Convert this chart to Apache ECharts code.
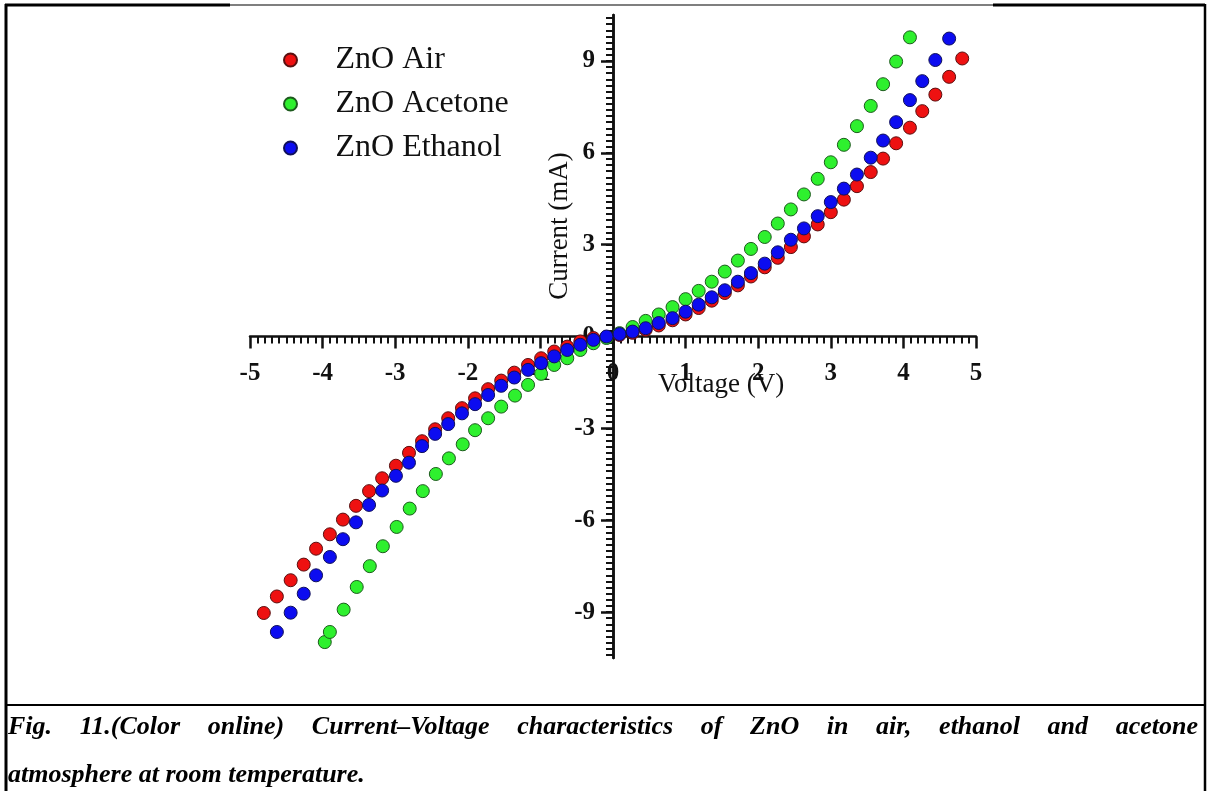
<!DOCTYPE html>
<html>
<head>
<meta charset="utf-8">
<script src="https://cdn.jsdelivr.net/npm/echarts@6/dist/echarts.min.js"></script>
<style>
  html, body { margin: 0; padding: 0; background: #fff; }
  #chart { width: 1209px; height: 791px; }
</style>
</head>
<body>
<div id="chart"></div>
<script>
// values (voltage in V, current in mA)
const airV = [-4.81, -4.63, -4.44, -4.26, -4.09, -3.90, -3.72, -3.54, -3.36, -3.18, -2.99, -2.81, -2.63, -2.45, -2.27, -2.08, -1.90, -1.72, -1.54, -1.36, -1.17, -0.99, -0.81, -0.63, -0.45, -0.27, -0.09,
  0.09, 0.27, 0.45, 0.63, 0.82, 1.00, 1.18, 1.36, 1.54, 1.72, 1.90, 2.09, 2.27, 2.45, 2.63, 2.82, 3.00, 3.18, 3.36, 3.55, 3.72, 3.90, 4.09, 4.26, 4.44, 4.63, 4.81];
const airI = [-9.03, -8.49, -7.96, -7.45, -6.93, -6.46, -5.98, -5.53, -5.05, -4.63, -4.22, -3.80, -3.42, -3.03, -2.67, -2.34, -2.02, -1.72, -1.44, -1.18, -0.93, -0.71, -0.49, -0.33, -0.16, -0.05, -0.02,
  0.05, 0.12, 0.22, 0.36, 0.53, 0.72, 0.93, 1.17, 1.42, 1.67, 1.96, 2.26, 2.57, 2.92, 3.27, 3.66, 4.06, 4.47, 4.91, 5.37, 5.81, 6.31, 6.82, 7.36, 7.90, 8.48, 9.08];

const acetoneV = [-3.97, -3.90, -3.71, -3.53, -3.35, -3.17, -2.98, -2.80, -2.62, -2.44, -2.26, -2.07, -1.90, -1.72, -1.54, -1.35, -1.17, -0.99, -0.81, -0.63, -0.45, -0.27, -0.09,
  0.09, 0.27, 0.45, 0.63, 0.82, 1.00, 1.18, 1.36, 1.54, 1.72, 1.90, 2.09, 2.27, 2.45, 2.63, 2.82, 3.00, 3.18, 3.36, 3.55, 3.72, 3.90, 4.09];
const acetoneI = [-9.98, -9.65, -8.92, -8.18, -7.50, -6.85, -6.22, -5.62, -5.05, -4.49, -3.98, -3.52, -3.06, -2.67, -2.29, -1.93, -1.58, -1.22, -0.93, -0.71, -0.44, -0.22, -0.05,
  0.11, 0.31, 0.51, 0.72, 0.96, 1.22, 1.49, 1.79, 2.12, 2.48, 2.86, 3.25, 3.69, 4.15, 4.64, 5.15, 5.69, 6.26, 6.87, 7.53, 8.24, 8.98, 9.77];

const ethanolV = [-4.63, -4.44, -4.26, -4.09, -3.90, -3.72, -3.54, -3.36, -3.18, -2.99, -2.81, -2.63, -2.45, -2.27, -2.08, -1.90, -1.72, -1.54, -1.36, -1.17, -0.99, -0.81, -0.63, -0.45, -0.27, -0.09,
  0.09, 0.27, 0.45, 0.63, 0.82, 1.00, 1.18, 1.36, 1.54, 1.72, 1.90, 2.09, 2.27, 2.45, 2.63, 2.82, 3.00, 3.18, 3.36, 3.55, 3.72, 3.90, 4.09, 4.26, 4.44, 4.63];
const ethanolI = [-9.65, -9.02, -8.40, -7.80, -7.20, -6.62, -6.07, -5.50, -5.03, -4.55, -4.12, -3.58, -3.18, -2.86, -2.51, -2.21, -1.91, -1.61, -1.34, -1.09, -0.87, -0.65, -0.44, -0.27, -0.11, 0.00,
  0.08, 0.16, 0.27, 0.44, 0.60, 0.81, 1.04, 1.28, 1.51, 1.79, 2.07, 2.38, 2.75, 3.16, 3.53, 3.93, 4.39, 4.83, 5.29, 5.84, 6.40, 7.00, 7.72, 8.34, 9.03, 9.73];

const seriesNames = ['ZnO Air', 'ZnO Acetone', 'ZnO Ethanol'];
const yLabelValues = [-9, -6, -3, 0, 3, 6, 9];
const xAxisTitle = 'Voltage (V)';
const yAxisTitle = 'Current (mA)';
const captionLine1 = 'Fig. 11.(Color online) Current\u2013Voltage characteristics of ZnO in air, ethanol and acetone';
const captionLine2 = 'atmosphere at room temperature.';

const serif = '"Liberation Serif", "Times New Roman", serif';
const ink = '#111';

// plot box; the axes cross at (0, 0), i.e. in the middle of it
const gridLeft = 250, gridRight = 233, gridTop = 15, gridBottom = 133;
const plotW = 1209 - gridLeft - gridRight;
const plotH = 791 - gridTop - gridBottom;

// minor ticks on the current axis every 0.2 mA
const yMinorTicks = [];
for (let k = -52; k <= 52; k++) yMinorTicks.push(Math.round(k * 2) / 10);

const pairs = (xs, ys) => xs.map((v, k) => [v, ys[k]]);

function scatter(name, data, color, border) {
  return {
    name: name,
    type: 'scatter',
    data: data,
    symbol: 'circle',
    symbolSize: 13,
    itemStyle: { color: color, borderColor: border, borderWidth: 1, opacity: 1 },
    emphasis: { disabled: true }
  };
}

// caption line 1 is justified across the frame
const capSize = 26;
const capStyle = { fontSize: capSize, fontFamily: serif, fontStyle: 'italic', fontWeight: 'bold', fill: '#000', verticalAlign: 'middle', align: 'left' };
const measure = document.createElement('canvas').getContext('2d');
measure.font = 'italic bold ' + capSize + 'px ' + serif;
const capWords = captionLine1.split(' ');
const wordW = capWords.map(w => measure.measureText(w).width);
const capLeft = 8, capRight = 1198;
const capGap = (capRight - capLeft - wordW.reduce((a, b) => a + b, 0)) / (capWords.length - 1);
const captionEls = [];
let cx = capLeft;
capWords.forEach((w, k) => {
  captionEls.push({ type: 'text', x: cx, y: 727, style: Object.assign({ text: w }, capStyle) });
  cx += wordW[k] + capGap;
});
captionEls.push({ type: 'text', x: capLeft, y: 775, style: Object.assign({ text: captionLine2 }, capStyle) });

const frame = [
  [5, 5, 1205, 5, 1.2],
  [5, 5, 230, 5, 3],
  [993, 5, 1205, 5, 3],
  [6, 4, 6, 791, 3],
  [1205, 4, 1205, 791, 2.5],
  [5, 705, 1205, 705, 2]
].map(s => ({ type: 'line', shape: { x1: s[0], y1: s[1], x2: s[2], y2: s[3] }, style: { stroke: '#000', lineWidth: s[4] }, silent: true }));

const chart = echarts.init(document.getElementById('chart'), null, { renderer: 'canvas' });
chart.setOption({
  animation: false,
  backgroundColor: '#fff',
  grid: { left: gridLeft, right: gridRight, top: gridTop, bottom: gridBottom, containLabel: false, outerBoundsMode: 'none' },
  legend: {
    orient: 'vertical',
    left: 278,
    top: 39,
    icon: 'circle',
    itemWidth: 80,
    itemHeight: 13,
    itemGap: 12,
    selectedMode: false,
    data: seriesNames,
    textStyle: { fontFamily: serif, fontSize: 32, lineHeight: 32, color: ink }
  },
  xAxis: {
    type: 'value',
    min: -5,
    max: 5,
    interval: 1,
    position: 'bottom',
    offset: -plotH / 2,
    axisLine: { onZero: false, lineStyle: { color: ink, width: 2.5 } },
    axisTick: { length: 12, lineStyle: { color: ink, width: 2.5 } },
    minorTick: { show: true, splitNumber: 10, length: 7, lineStyle: { color: ink, width: 2 } },
    axisLabel: { margin: 25, fontFamily: serif, fontWeight: 'bold', fontSize: 25, color: ink },
    splitLine: { show: false },
    minorSplitLine: { show: false }
  },
  yAxis: [
    {
      type: 'value',
      min: -10.5,
      max: 10.5,
      position: 'left',
      offset: -plotW / 2,
      axisLine: { onZero: false, lineStyle: { color: ink, width: 2.5 } },
      axisTick: { customValues: yLabelValues, length: 12, lineStyle: { color: ink, width: 2.5 } },
      axisLabel: { customValues: yLabelValues, margin: 18, fontFamily: serif, fontWeight: 'bold', fontSize: 25, color: ink },
      splitLine: { show: false }
    },
    {
      type: 'value',
      min: -10.5,
      max: 10.5,
      position: 'left',
      offset: -plotW / 2,
      axisLine: { onZero: false, lineStyle: { color: ink, width: 2.5 } },
      axisTick: { customValues: yMinorTicks, length: 7, lineStyle: { color: ink, width: 2 } },
      axisLabel: { show: false },
      splitLine: { show: false }
    }
  ],
  series: [
    scatter(seriesNames[0], pairs(airV, airI), '#ee1111', '#5a1010'),
    scatter(seriesNames[1], pairs(acetoneV, acetoneI), '#2ef02e', '#1d5a1d'),
    scatter(seriesNames[2], pairs(ethanolV, ethanolI), '#0c0cf0', '#10105a')
  ],
  graphic: frame.concat([
    { type: 'text', x: 658, y: 385, style: { text: xAxisTitle, fontSize: 27, fontFamily: serif, fill: ink, align: 'left', verticalAlign: 'middle' } },
    { type: 'text', x: 560, y: 226, rotation: Math.PI / 2, style: { text: yAxisTitle, fontSize: 27, fontFamily: serif, fill: ink, align: 'center', verticalAlign: 'middle' } }
  ], captionEls)
});
</script>
</body>
</html>
